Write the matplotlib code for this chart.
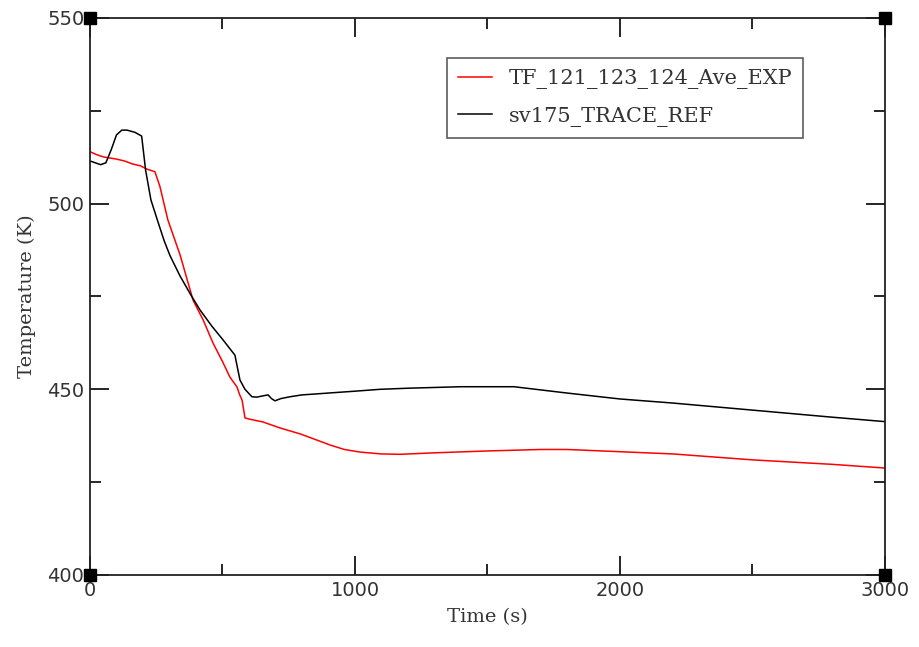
import matplotlib
matplotlib.use("Agg")
import matplotlib.pyplot as plt
from matplotlib.ticker import MultipleLocator

# sv175_TRACE_REF (black)
t_ref = [0, 20, 40, 60, 80, 100, 120, 140, 170, 195, 210, 230, 257, 280, 302,
         340, 380, 415, 460, 500, 547, 556, 566, 585, 611, 630, 650, 672, 685,
         698, 720, 755, 800, 842, 900, 1000, 1094, 1200, 1300, 1400, 1500, 1600,
         1800, 2000, 2200, 2500, 2800, 3000]
T_ref = [511.5, 511.0, 510.5, 511.0, 514.5, 518.5, 519.8, 519.8, 519.2, 518.2,
         509.0, 501.0, 495.0, 490.0, 486.0, 480.5, 475.5, 471.4, 467.0, 463.5,
         459.2, 456.0, 452.5, 450.0, 448.0, 447.9, 448.2, 448.5, 447.5, 446.9,
         447.5, 448.0, 448.5, 448.7, 449.0, 449.5, 450.0, 450.3, 450.5, 450.7,
         450.7, 450.7, 449.0, 447.4, 446.3, 444.4, 442.5, 441.3]

# TF_121_123_124_Ave_EXP (red)
t_exp = [0, 25, 50, 75, 100, 130, 160, 190, 215, 245, 264, 294, 340, 389, 427,
         464, 500, 528, 555, 565, 574, 585, 600, 653, 717, 793, 850, 906, 960,
         1019, 1100, 1170, 1300, 1500, 1700, 1800, 2000, 2200, 2500, 2800, 3000]
T_exp = [514.0, 513.2, 512.6, 512.3, 512.0, 511.5, 510.7, 510.2, 509.3, 508.6,
         504.6, 495.6, 486.2, 474.0, 468.7, 462.5, 457.5, 453.3, 450.6, 448.5,
         447.1, 442.3, 442.0, 441.2, 439.6, 438.0, 436.5, 435.0, 433.8, 433.1,
         432.6, 432.5, 432.9, 433.4, 433.8, 433.8, 433.2, 432.6, 431.0, 429.8,
         428.8]

fig = plt.figure(figsize=(9.19, 6.47), dpi=100)
ax = fig.add_axes([0.0979, 0.1113, 0.8651, 0.8609])

ax.plot(t_exp, T_exp, color="red", lw=1.1, label="TF_121_123_124_Ave_EXP")
ax.plot(t_ref, T_ref, color="black", lw=1.1, label="sv175_TRACE_REF")

ax.set_xlim(0, 3000)
ax.set_ylim(400, 550)
ax.xaxis.set_major_locator(MultipleLocator(1000))
ax.xaxis.set_minor_locator(MultipleLocator(500))
ax.yaxis.set_major_locator(MultipleLocator(50))
ax.yaxis.set_minor_locator(MultipleLocator(25))
ax.tick_params(which="both", direction="in", top=True, right=True,
               labelsize=14, colors="black", pad=4)
ax.tick_params(which="major", length=14, width=1.2)
ax.tick_params(which="minor", length=8, width=1.2)
for lbl in ax.get_xticklabels() + ax.get_yticklabels():
    lbl.set_color("#333333")
for s in ax.spines.values():
    s.set_linewidth(1.3)
    s.set_color("#222222")

# corner squares
ax.plot([0, 1, 0, 1], [0, 0, 1, 1], "s", color="black", ms=9,
        transform=ax.transAxes, clip_on=False, zorder=5)

ax.set_xlabel("Time (s)", family="DejaVu Serif", fontsize=14, color="#333333", labelpad=6)
ax.set_ylabel("Temperature (K)", family="DejaVu Serif", fontsize=14, color="#333333", labelpad=8)

leg = ax.legend(loc="upper left", bbox_to_anchor=(0.449, 0.929),
                prop={"family": "DejaVu Serif", "size": 15},
                fancybox=False, frameon=True, edgecolor="#333333",
                handlelength=1.6, handletextpad=0.8, borderpad=0.55,
                labelspacing=0.85, borderaxespad=0)
leg.get_frame().set_linewidth(1.2)
for txt in leg.get_texts():
    txt.set_color("#333333")

fig.savefig("out.png", dpi=100)
